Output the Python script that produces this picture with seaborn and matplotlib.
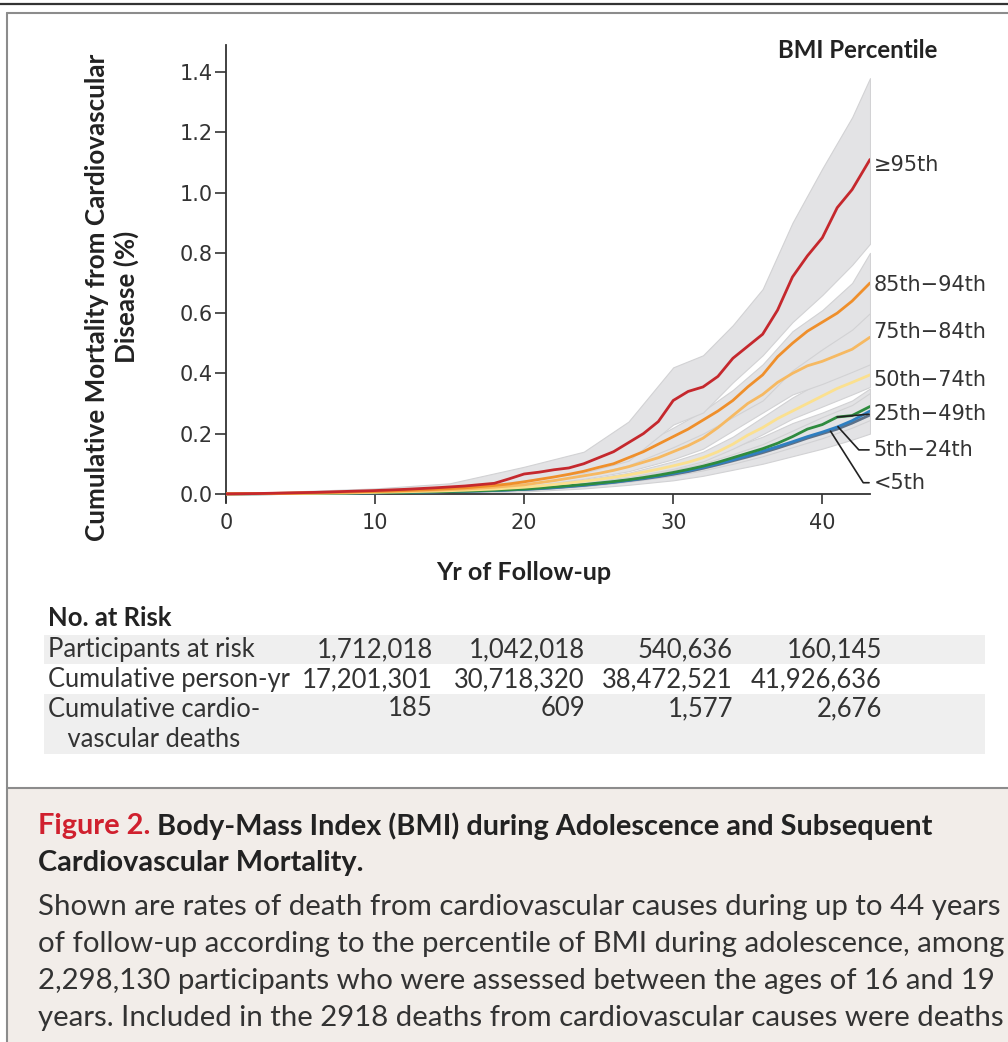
import numpy as np
import pandas as pd
import matplotlib
matplotlib.use("Agg")
import matplotlib.pyplot as plt
import seaborn as sns
from matplotlib.lines import Line2D
from matplotlib.patches import Rectangle

# ---------------- data ----------------
years = [0, 2, 4, 6, 8, 10, 12, 14, 16, 18, 19, 20, 21, 22, 23, 24, 25, 26, 27, 28,
         29, 30, 31, 32, 33, 34, 35, 36, 37, 38, 39, 40, 41, 42, 43.2]
p95 = [0, 0.001, 0.003, 0.005, 0.008, 0.011, 0.015, 0.020, 0.026, 0.035,
       0.050, 0.066, 0.072, 0.080, 0.086, 0.100, 0.120, 0.140, 0.170, 0.200, 0.240, 0.310,
       0.340, 0.355, 0.390, 0.450, 0.490, 0.530, 0.610, 0.720, 0.790, 0.850, 0.950, 1.010,
       1.110]
p85 = [0, 0.001, 0.002, 0.004, 0.006, 0.008, 0.011, 0.015, 0.020, 0.028,
       0.033, 0.040, 0.048, 0.056, 0.065, 0.075, 0.088, 0.100, 0.120, 0.140, 0.165, 0.190,
       0.215, 0.245, 0.275, 0.310, 0.355, 0.395, 0.455, 0.500, 0.540, 0.570, 0.600, 0.640,
       0.700]
p75 = [0, 0.001, 0.002, 0.003, 0.005, 0.007, 0.009, 0.012, 0.016, 0.022,
       0.026, 0.030, 0.037, 0.044, 0.052, 0.060, 0.068, 0.078, 0.090, 0.105, 0.120, 0.140,
       0.160, 0.185, 0.220, 0.260, 0.300, 0.330, 0.370, 0.400, 0.425, 0.440, 0.460, 0.480,
       0.520]
p50 = [0, 0.0005, 0.001, 0.002, 0.003, 0.005, 0.007, 0.009, 0.012, 0.016,
       0.019, 0.022, 0.026, 0.031, 0.036, 0.042, 0.048, 0.055, 0.063, 0.072, 0.082, 0.093,
       0.105, 0.120, 0.140, 0.165, 0.195, 0.220, 0.250, 0.275, 0.300, 0.325, 0.350, 0.370,
       0.395]
p25 = [0, 0.0004, 0.001, 0.0015, 0.0025, 0.004, 0.005, 0.007, 0.009, 0.012,
       0.014, 0.016, 0.019, 0.023, 0.027, 0.031, 0.036, 0.041, 0.047, 0.054, 0.062, 0.071,
       0.081, 0.092, 0.105, 0.120, 0.135, 0.150, 0.168, 0.190, 0.215, 0.230, 0.255, 0.260,
       0.290]
p5 = [0, 0.0004, 0.001, 0.0015, 0.0025, 0.0035, 0.005, 0.0065, 0.0085, 0.011,
      0.013, 0.015, 0.018, 0.021, 0.025, 0.029, 0.034, 0.039, 0.045, 0.052, 0.059, 0.068,
      0.077, 0.088, 0.100, 0.113, 0.127, 0.142, 0.157, 0.173, 0.190, 0.205, 0.222, 0.243,
      0.275]
plt5 = [0, 0.0004, 0.001, 0.0015, 0.0025, 0.0035, 0.005, 0.0065, 0.0085, 0.011,
        0.013, 0.015, 0.017, 0.020, 0.024, 0.028, 0.033, 0.038, 0.044, 0.050, 0.057, 0.065,
        0.074, 0.085, 0.097, 0.110, 0.123, 0.137, 0.152, 0.168, 0.185, 0.200, 0.215, 0.235,
        0.262]

band_years = [0, 10, 15, 20, 24, 27, 30, 32, 34, 36, 38, 40, 42, 43.2]
p95_lo = [0, 0.006, 0.014, 0.045, 0.070, 0.110, 0.230, 0.270, 0.370, 0.460, 0.570, 0.660, 0.760, 0.830]
p95_hi = [0, 0.018, 0.035, 0.090, 0.140, 0.240, 0.420, 0.460, 0.560, 0.680, 0.900, 1.080, 1.250, 1.380]
p85_lo = [0, 0.005, 0.012, 0.030, 0.060, 0.095, 0.155, 0.200, 0.255, 0.310, 0.410, 0.480, 0.545, 0.600]
p85_hi = [0, 0.011, 0.024, 0.050, 0.090, 0.140, 0.220, 0.275, 0.345, 0.430, 0.540, 0.610, 0.700, 0.800]
p75_lo = [0, 0.005, 0.011, 0.024, 0.050, 0.075, 0.115, 0.150, 0.210, 0.270, 0.330, 0.365, 0.405, 0.430]
p75_hi = [0, 0.009, 0.019, 0.036, 0.070, 0.105, 0.170, 0.220, 0.310, 0.385, 0.460, 0.515, 0.575, 0.630]
p50_lo = [0, 0.004, 0.008, 0.019, 0.037, 0.056, 0.083, 0.108, 0.150, 0.198, 0.250, 0.290, 0.330, 0.355]
p50_hi = [0, 0.006, 0.012, 0.025, 0.047, 0.070, 0.108, 0.140, 0.190, 0.255, 0.320, 0.375, 0.420, 0.460]
p25_lo = [0, 0.003, 0.006, 0.013, 0.027, 0.042, 0.063, 0.083, 0.108, 0.135, 0.170, 0.205, 0.235, 0.260]
p25_hi = [0, 0.005, 0.009, 0.019, 0.035, 0.052, 0.079, 0.101, 0.132, 0.165, 0.210, 0.255, 0.295, 0.335]
p5_lo = [0, 0.003, 0.006, 0.012, 0.025, 0.040, 0.060, 0.078, 0.100, 0.125, 0.155, 0.185, 0.220, 0.245]
p5_hi = [0, 0.005, 0.009, 0.018, 0.033, 0.050, 0.076, 0.096, 0.125, 0.155, 0.195, 0.225, 0.270, 0.305]
plt5_lo = [0, 0.001, 0.004, 0.008, 0.018, 0.030, 0.045, 0.060, 0.080, 0.100, 0.125, 0.150, 0.180, 0.200]
plt5_hi = [0, 0.008, 0.014, 0.026, 0.045, 0.065, 0.095, 0.120, 0.155, 0.190, 0.235, 0.270, 0.310, 0.350]

groups = ["<5th", "5th\u221224th", "25th\u221249th", "50th\u221274th",
          "75th\u221284th", "85th\u221294th", "\u226595th"]
series = [plt5, p5, p25, p50, p75, p85, p95]
bands = [(plt5_lo, plt5_hi), (p5_lo, p5_hi), (p25_lo, p25_hi), (p50_lo, p50_hi),
         (p75_lo, p75_hi), (p85_lo, p85_hi), (p95_lo, p95_hi)]
colors = ["#5d7188", "#2f7fc1", "#2e8b3e", "#fbe08f", "#f6b962", "#ef8f2b", "#c5282d"]

x_ticks = [0, 10, 20, 30, 40]
y_ticks = [0.0, 0.2, 0.4, 0.6, 0.8, 1.0, 1.2, 1.4]

risk_rows = ["Participants at risk", "Cumulative person-yr", "Cumulative cardio-\n   vascular deaths"]
participants = ["1,712,018", "1,042,018", "540,636", "160,145"]
person_yr = ["17,201,301", "30,718,320", "38,472,521", "41,926,636"]
cv_deaths = ["185", "609", "1,577", "2,676"]

cap_red = "Figure 2."
cap_title1 = " Body-Mass Index (BMI) during Adolescence and Subsequent"
cap_title2 = "Cardiovascular Mortality."
cap_body = ["Shown are rates of death from cardiovascular causes during up to 44 years",
            "of follow-up according to the percentile of BMI during adolescence, among",
            "2,298,130 participants who were assessed between the ages of 16 and 19",
            "years. Included in the 2918 deaths from cardiovascular causes were deaths"]

# ---------------- layout helpers ----------------
W, H = 1008, 1042
def fx(p):
    return p / W
def fy(p):
    return 1 - p / H

sns.set_theme(style="ticks")
plt.rcParams["font.family"] = ["DejaVu Sans"]
TXT = ["Lato", "DejaVu Sans"]

fig = plt.figure(figsize=(W / 100, H / 100), dpi=100)
fig.patch.set_facecolor("white")

# frame / caption box
fig.add_artist(Rectangle((fx(7), 0), 1 - fx(7), fy(788), facecolor="#f2ede9",
                         edgecolor="none", zorder=0))
fig.add_artist(Line2D([0, 1], [fy(3.5)] * 2, color="#333333", lw=1.6))
fig.add_artist(Line2D([fx(7), 1], [fy(13)] * 2, color="#8c8c8c", lw=1.5))
fig.add_artist(Line2D([fx(7)] * 2, [fy(13), 0], color="#8c8c8c", lw=1.5))
fig.add_artist(Line2D([fx(7), 1], [fy(788)] * 2, color="#8c8c8c", lw=1.5))

# table shading
fig.add_artist(Rectangle((fx(44), fy(664)), fx(985) - fx(44), fy(635) - fy(664),
                         facecolor="#efefef", edgecolor="none", zorder=0.5))
fig.add_artist(Rectangle((fx(44), fy(754)), fx(985) - fx(44), fy(694) - fy(754),
                         facecolor="#efefef", edgecolor="none", zorder=0.5))

# ---------------- plot ----------------
ax = fig.add_axes([fx(226), fy(502), fx(870) - fx(226), fy(45) - fy(502)])
ax.set_facecolor("none")

for (lo, hi) in bands:
    ax.fill_between(band_years, lo, hi, facecolor="#e3e3e5", edgecolor="#d2d2d4",
                    lw=0.8, zorder=1)

df = pd.DataFrame({
    "year": np.tile(years, len(groups)),
    "risk": np.concatenate(series),
    "group": np.repeat(groups, len(years)),
})
sns.lineplot(data=df, x="year", y="risk", hue="group", hue_order=groups,
             palette=dict(zip(groups, colors)), estimator=None, sort=False,
             linewidth=2.0, legend=False, ax=ax, zorder=3)

ax.set_xlim(0, 43.2)
ax.set_ylim(-0.027, 1.49)
ax.set_xticks(x_ticks)
ax.set_yticks(y_ticks)
ax.set_yticklabels([f"{v:.1f}" for v in y_ticks])
for s in ["top", "right"]:
    ax.spines[s].set_visible(False)
ax.spines["bottom"].set_position(("data", 0))
for s in ["left", "bottom"]:
    ax.spines[s].set_color("#333333")
    ax.spines[s].set_linewidth(1.3)
ax.tick_params(axis="y", length=8, width=1.2, color="#333333", pad=1.5,
               labelsize=15, labelcolor="#333333")
ax.tick_params(axis="x", length=7.5, width=1.2, color="#333333", pad=6,
               labelsize=15, labelcolor="#333333")
ax.set_xlabel("")
ax.set_ylabel("")

# series labels
label_x = 43.45
label_y = [0.037, 0.146, 0.266, 0.378, 0.538, 0.694, 1.092]
lead_x = [40.55, 41.05, 41.0, None, None, None, None]
lead_ang = [-57.6, -48.0, None, None, None, None, None]
for i, g in enumerate(groups):
    kw = dict(fontsize=15, color="#333333", va="center", ha="left",
              annotation_clip=False)
    if lead_x[i] is None:
        ax.annotate(g, xy=(label_x, label_y[i]), **kw)
    else:
        yv = float(np.interp(lead_x[i], years, series[i]))
        if lead_ang[i] is None:
            cs = "arc3"
        else:
            cs = f"angle,angleA=0,angleB={lead_ang[i]},rad=0"
        ax.annotate(g, xy=(lead_x[i], yv), xytext=(label_x, label_y[i]),
                    arrowprops=dict(arrowstyle="-", color="#222222", lw=1.2,
                                    shrinkA=1, shrinkB=0, connectionstyle=cs,
                                    relpos=(0, 0.5)),
                    **kw)

# ---------------- texts ----------------
fig.canvas.draw()
R = fig.canvas.get_renderer()

def fit(t, target):
    w = t.get_window_extent(R).width
    t.set_fontsize(t.get_fontsize() * target / w)
    return t

t = fig.text(fx(858), fy(50), "BMI Percentile", family=TXT, weight="bold",
             ha="center", va="center", color="#222222", fontsize=16)
fit(t, 160)

yl = fig.text(fx(112), fy(297), "Cumulative Mortality from Cardiovascular",
              family=TXT, weight="bold", ha="center", va="center",
              color="#222222", fontsize=16)
fit(yl, 487)
yl.set_text("Cumulative Mortality from Cardiovascular\nDisease (%)")
yl.set_rotation(90)
yl.set_multialignment("center")
yl.set_linespacing(1.25)

t = fig.text(fx(524), fy(572), "Yr of Follow-up", family=TXT, weight="bold",
             ha="center", va="center", color="#222222", fontsize=16)
fit(t, 175)

t = fig.text(fx(48), fy(618), "No. at Risk", family=TXT, weight="bold",
             ha="left", va="center", color="#222222", fontsize=16)
fit(t, 124)

ref = fig.text(fx(48), fy(680), risk_rows[1], family=TXT, ha="left",
               va="center", color="#333333", fontsize=16)
fit(ref, 244)
tsz = ref.get_fontsize()
fig.text(fx(48), fy(650), risk_rows[0], family=TXT, ha="left", va="center",
         color="#333333", fontsize=tsz)
fig.text(fx(48), fy(697), risk_rows[2], family=TXT, ha="left", va="top",
         color="#333333", fontsize=tsz, linespacing=1.25)

numref = fig.text(0, 0, person_yr[0], family=TXT, color="#333333", fontsize=16)
fit(numref, 131)
nsz = numref.get_fontsize()
numref.remove()
col_right = [433, 585, 733, 882]
for row_vals, ypx in [(participants, 650), (person_yr, 680), (cv_deaths, 709)]:
    for v, xr in zip(row_vals, col_right):
        fig.text(fx(xr), fy(ypx), v, family=TXT, ha="right", va="center",
                 color="#333333", fontsize=nsz)

# caption
t1 = fig.text(fx(38), fy(826), cap_red, family=TXT, weight="bold", ha="left",
              va="center", color="#d0202e", fontsize=19)
t2 = fig.text(0, fy(826), cap_title1, family=TXT, weight="bold", ha="left",
              va="center", color="#222222", fontsize=19)
w = t1.get_window_extent(R).width + t2.get_window_extent(R).width
sc = 892 / w
t1.set_fontsize(19 * sc)
t2.set_fontsize(19 * sc)
fig.canvas.draw()
bb = t1.get_window_extent(R)
t2.set_x(bb.x1 / W)
fig.text(fx(38), fy(863), cap_title2, family=TXT, weight="bold", ha="left",
         va="center", color="#222222", fontsize=19 * sc)

b0 = fig.text(fx(38), fy(907), cap_body[0], family=TXT, ha="left", va="center",
              color="#333333", fontsize=19)
fit(b0, 962)
bsz = b0.get_fontsize()
for i, line in enumerate(cap_body[1:], start=1):
    fig.text(fx(38), fy(907 + 37 * i), line, family=TXT, ha="left", va="center",
             color="#333333", fontsize=bsz)

fig.savefig("out.png", dpi=100, facecolor="white")
